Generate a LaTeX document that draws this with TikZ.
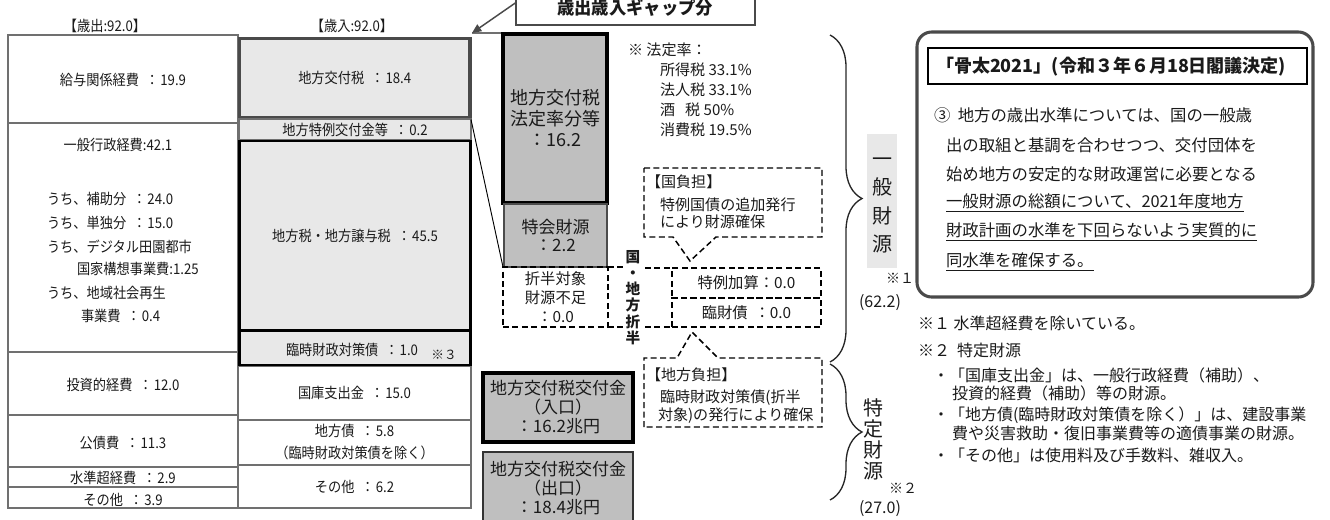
\documentclass[tikz,border=0pt]{standalone}
\usepackage{fontspec}
\setmainfont{Noto Sans CJK JP}
\newfontfamily\cond[FakeStretch=0.9]{Noto Sans CJK JP}
\usetikzlibrary{decorations.pathreplacing,arrows.meta}
\definecolor{lt}{HTML}{E8E8E8}
\definecolor{md}{HTML}{BFBFBF}
\definecolor{dg}{HTML}{4A4A4A}
\definecolor{lc}{HTML}{707070}
\definecolor{tx}{HTML}{1A1A1A}
\newcommand\bx[7]{\node[#6, minimum width={(#4-(#2))*0.75pt}, minimum height={(#5-(#3))*0.75pt}] (#1) at ({(#2+#4)/2},{(#3+#5)/2}) {#7};}
\newcommand\fz[2]{\fontsize{#1pt}{#2pt}\selectfont}
\newcommand\cl{\hspace{0.45em}：\hspace{0.1em}}
\begin{document}
\begin{tikzpicture}[x=0.75pt,y=-0.75pt,
  every node/.style={inner sep=0pt, outer sep=0pt, text=tx},
  lcell/.style={draw=lc, line width=1.1pt, fill=white},
  s10/.style={font=\cond\fz{11}{16.5}},
  gbox/.style={fill=md, align=center},
  dsh/.style={draw=black, line width=1.1pt, dash pattern=on 4.5pt off 2.6pt},
  body/.style={anchor=west, font=\fz{12.3}{14}},
  note/.style={anchor=west, font=\fz{12}{14}},
  hot/.style={anchor=west, font=\fz{11.3}{13}},
  brc/.style={draw=black!85, line width=1pt, decorate},
]
\useasboundingbox (0,0) rectangle (1330,519);

% ---------- left column (歳出)
\node[s10] (hout) at (105,26) {【歳出:92.0】};
\node[s10] (hin) at (352,26) {【歳入:92.0】};
\bx{kyuyo}{8}{35}{238}{123}{lcell}{}
\bx{ippan}{8}{123}{238}{352}{lcell}{}
\bx{toshi}{8}{352}{238}{415}{lcell}{}
\bx{kosai}{8}{415}{238}{467}{lcell}{}
\bx{suijun}{8}{467}{238}{487}{lcell}{}
\bx{sonota}{8}{487}{238}{508}{lcell}{}
\node[s10] (tkyuyo) at (123,80) {給与関係経費\cl 19.9};
\node[s10] (tippan) at (118,145) {一般行政経費:42.1};
\node[s10,anchor=west] (u1) at (47,199) {うち、補助分\cl 24.0};
\node[s10,anchor=west] (u2) at (47,223) {うち、単独分\cl 15.0};
\node[s10,anchor=west] (u3) at (47,247) {うち、デジタル田園都市};
\node[s10,anchor=west] (u4) at (77,269) {国家構想事業費:1.25};
\node[s10,anchor=west] (u5) at (47,293) {うち、地域社会再生};
\node[s10,anchor=west] (u6) at (81,316) {事業費\cl 0.4};
\node[s10] (ttoshi) at (123,385) {投資的経費\cl 12.0};
\node[s10] (tkosai) at (123,443) {公債費\cl 11.3};
\node[s10] (tsuijun) at (123,478) {水準超経費\cl 2.9};
\node[s10] (tsonota) at (123,500) {その他\cl 3.9};

% ---------- right column (歳入)
\bx{kokko}{238}{366}{471}{420}{lcell,s10}{国庫支出金\cl 15.0}
\bx{chihosai}{238}{420}{471}{465}{lcell,s10,align=center}{地方債\cl 5.8\\（臨時財政対策債を除く）}
\bx{sonota2}{238}{465}{471}{508}{lcell,s10}{その他\cl 6.2}
\bx{kofu}{239.5}{38.5}{470}{118}{draw=dg,line width=2.3pt,fill=lt,s10}{地方交付税\cl 18.4}
\bx{tokurei}{239}{119}{471}{140}{draw=lc,line width=1.1pt,fill=lt,s10}{地方特例交付金等\cl 0.2}
\bx{chiho}{239.5}{141}{470.5}{330}{draw=black,line width=2pt,fill=lt,s10}{地方税・地方譲与税\cl 45.5}
\bx{rinji}{239.5}{331}{470.5}{365}{draw=black,line width=2pt,fill=lt}{}
\node[s10] (trinji) at (352,350) {臨時財政対策債\cl 1.0};
\node[font=\fz{9.5}{10}] (kome3) at (444,355) {※３};

% gap column
\coordinate (gtl) at (472,33);
\coordinate (gtr) at (503,33);
\draw[lc, line width=0.9pt] (gtl) -- (gtr);
\draw[black, line width=0.7pt] (tokurei.east) ++(0,-10) coordinate (dstart) -- (503,267) coordinate (dend);

% gap box + arrow
\bx{gap}{516}{-20}{755}{25}{draw=dg,line width=2.2pt,fill=white}{}
\node[font=\bfseries\fz{13}{15}] (gaptxt) at (635,8) {歳出歳入ギャップ分};
\draw[dg, line width=1.1pt, -{Triangle[length=7pt,width=6pt]}] (gap.west) -- (gtl);

% ---------- grey boxes
\bx{hotei}{503}{34}{607}{203}{draw=black,line width=2.3pt,gbox,font=\fz{13.5}{15.75}}{地方交付税\\法定率分等\\：16.2}
\bx{tokkai}{504}{204}{607}{267}{draw=black!70,line width=0.8pt,gbox,font=\fz{12.75}{13.5}}{特会財源\\：2.2}
\bx{seppan}{503}{267}{608}{327}{dsh,align=center,font=\fz{11.5}{14.5}}{折半対象\\財源不足\\：0.0}
\bx{tokureikasan}{672}{268}{821}{298}{dsh,font=\fz{11.5}{13}}{特例加算：0.0}
\bx{rinzaisai}{672}{298}{821}{327}{dsh,font=\fz{11.5}{13}}{臨財債\ \ ：0.0}
\draw[dsh] (seppan.north east) -- (623,267);
\draw[dsh] (645,268) -- (tokureikasan.north west);
\draw[dsh] (seppan.south east) -- (623,327);
\draw[dsh] (645,327) -- (rinzaisai.south west);
\node[font=\bfseries\fz{11}{12.15}, align=center] (kunichiho) at (633,297.5) {国\\・\\地\\方\\折\\半};

% 国負担 callout
\bx{kunifutan}{644}{168}{822}{237}{}{}
\draw[dsh] (kunifutan.north west) -- (kunifutan.north east) -- (kunifutan.south east) -- (716,237) -- (690,261) coordinate (ktip) -- (673,237) -- (kunifutan.south west) -- cycle;
\node[hot] (kf1) at (646,182) {【国負担】};
\node[hot] (kf2) at (660,205) {特例国債の追加発行};
\node[hot] (kf3) at (660,222) {により財源確保};

% 地方負担 callout
\bx{chihofutan}{644}{358}{822}{427}{}{}
\draw[dsh] (chihofutan.south west) -- (chihofutan.north west) -- (677,358) -- (692,332) coordinate (ctip) -- (718,358) -- (chihofutan.north east) -- (chihofutan.south east) -- cycle;
\node[hot] (cf1) at (646,375) {【地方負担】};
\node[hot] (cf2) at (660,398) {臨時財政対策債(折半};
\node[hot] (cf3) at (658,416) {対象)の発行により確保};

% 交付金 boxes
\bx{iriguchi}{483}{373}{633}{442}{draw=black,line width=2.3pt,gbox,font=\fz{12.75}{14.25}}{地方交付税交付金\\（入口）\\：16.2兆円}
\bx{deguchi}{483}{452}{633}{530}{draw=black!80,line width=0.9pt,fill=md}{}
\node[align=center,font=\fz{12.75}{14.25}] (tdeguchi) at (558,488) {地方交付税交付金\\（出口）\\：18.4兆円};

% 法定率
\node[hot] (h0) at (628,50) {※ 法定率：};
\node[hot] (h1) at (660,70) {所得税 33.1\%};
\node[hot] (h2) at (660,90) {法人税 33.1\%};
\node[hot] (h3) at (660,110) {酒\ \ \ 税 50\%};
\node[hot] (h4) at (660,130) {消費税 19.5\%};

% ---------- braces and labels
\draw[brc, decoration={brace, amplitude=24pt}] (830,35) -- (830,362);
\draw[brc, decoration={brace, amplitude=24pt}] (830,364) -- (830,500);
\bx{ippanbg}{867}{134}{897}{268}{fill=lt}{}
\node[align=center, font=\fz{15}{21.4}] (ippanlbl) at (882,205.5) {一\\般\\財\\源};
\node[font=\fz{10.5}{12}] (kome1) at (900,278) {※１};
\node[font=\fz{12}{14}] (v622) at (880,303) {(62.2)};
\node[align=center, font=\fz{15}{15.75}] (tokutei) at (873,439) {特\\定\\財\\源};
\node[font=\fz{10.5}{12}] (kome2) at (903,488) {※２};
\node[font=\fz{12}{14}] (v270) at (880,509) {(27.0)};

% ---------- 骨太 box
\bx{honebox}{917}{32}{1313}{297}{draw=dg,line width=2.3pt,rounded corners=11pt}{}
\bx{honetitle}{928}{48}{1307}{84}{draw=black,line width=0.9pt}{}
\node[anchor=west, font=\bfseries\fz{13.5}{15}] (honetxt) at (936,67) {「骨太2021」(令和３年６月18日閣議決定)};
\node[body] (b1) at (934,115) {③\ \ 地方の歳出水準については、国の一般歳};
\node[body] (b2) at (946,145) {出の取組と基調を合わせつつ、交付団体を};
\node[body] (b3) at (946,174) {始め地方の安定的な財政運営に必要となる};
\node[body] (b4) at (946,203) {\underline{一般財源の総額について、2021年度地方}};
\node[body] (b5) at (946,232) {\underline{財政計画の水準を下回らないよう実質的に}};
\node[body] (b6) at (946,262) {\underline{同水準を確保する。}};

% ---------- notes
\node[note] (n1) at (918,323) {※１ 水準超経費を除いている。};
\node[note] (n2) at (918,350) {※２\ \ 特定財源};
\node[note] (n3) at (933,375) {・「国庫支出金」は、一般行政経費（補助）、};
\node[note] (n4) at (952,393) {投資的経費（補助）等の財源。};
\node[note] (n5) at (933,415) {・「地方債(臨時財政対策債を除く）」は、建設事業};
\node[note] (n6) at (952,433) {費や災害救助・復旧事業費等の適債事業の財源。};
\node[note] (n7) at (933,455) {・「その他」は使用料及び手数料、雑収入。};
\end{tikzpicture}
\end{document}
